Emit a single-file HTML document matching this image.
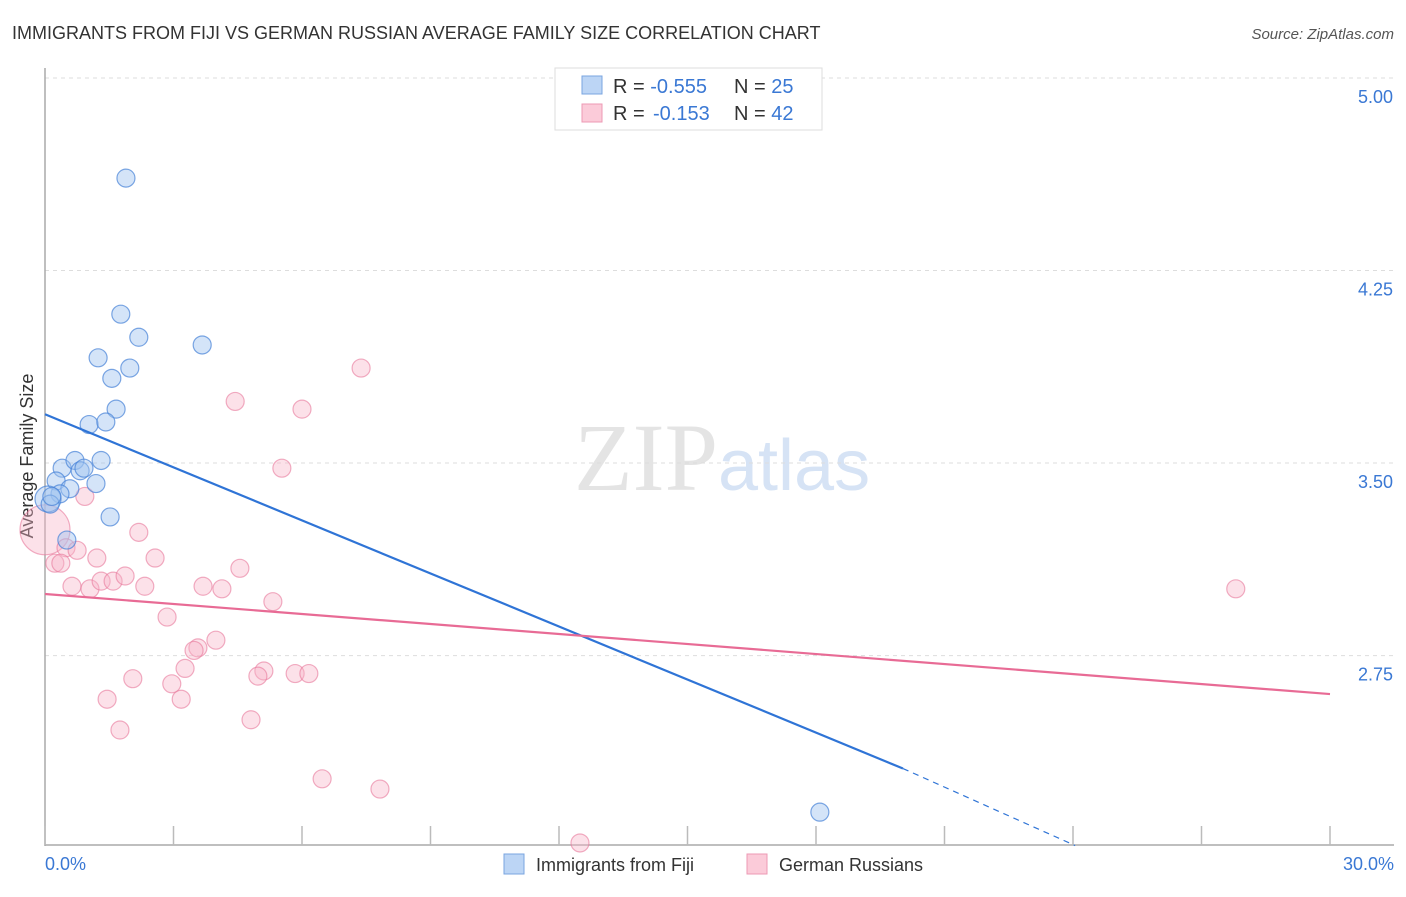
<!DOCTYPE html>
<html><head><meta charset="utf-8"><style>
body{margin:0;background:#fff;font-family:"Liberation Sans",sans-serif}
</style></head><body>
<svg width="1406" height="892" xmlns="http://www.w3.org/2000/svg" font-family="Liberation Sans, sans-serif">
<text x="12" y="39" font-size="18" fill="#333">IMMIGRANTS FROM FIJI VS GERMAN RUSSIAN AVERAGE FAMILY SIZE CORRELATION CHART</text>
<text x="1394" y="39" font-size="15" fill="#555" text-anchor="end" font-style="italic">Source: ZipAtlas.com</text>
<text x="718" y="490" font-size="96" fill="#e4e4e4" text-anchor="end" font-family="Liberation Serif, serif">ZIP</text>
<text x="718" y="490" font-size="72" fill="#d6e3f5">atlas</text>
<g id="grid"></g>
<line x1="45" y1="68" x2="45" y2="846" stroke="#aaa" stroke-width="1.5"/>
<line x1="45" y1="845" x2="1394" y2="845" stroke="#aaa" stroke-width="1.5"/>
<g id="xticks"></g>
<text x="33" y="456" font-size="18" fill="#333" text-anchor="middle" transform="rotate(-90 33 456)">Average Family Size</text>
<text x="45" y="870" font-size="18" fill="#3a78d4">0.0%</text>
<text x="1394" y="870" font-size="18" fill="#3a78d4" text-anchor="end">30.0%</text>
<g id="pts"></g>
<g id="lines"></g>
<g>
<rect x="555" y="68" width="267" height="62" fill="#fff" stroke="#ddd"/>
<rect x="582" y="76" width="20" height="18" fill="#bcd5f5" stroke="#7aa5e0"/>
<rect x="582" y="104" width="20" height="18" fill="#fbcbd9" stroke="#ec9ab4"/>
<text x="613" y="93" font-size="20" fill="#333">R = <tspan fill="#3a78d4">-0.555</tspan><tspan x="734">N = </tspan><tspan fill="#3a78d4">25</tspan></text>
<text x="613" y="120" font-size="20" fill="#333">R = <tspan fill="#3a78d4" x="653">-0.153</tspan><tspan x="734">N = </tspan><tspan fill="#3a78d4">42</tspan></text>
</g>
<g>
<rect x="504" y="854" width="20" height="20" fill="#bcd5f5" stroke="#7aa5e0"/>
<text x="536" y="871" font-size="18" fill="#333">Immigrants from Fiji</text>
<rect x="747" y="854" width="20" height="20" fill="#fbcbd9" stroke="#ec9ab4"/>
<text x="779" y="871" font-size="18" fill="#333">German Russians</text>
</g>
</svg>
<script>
const yTicks=[5.00,4.25,3.50,2.75];
const yTickLabels=["5.00","4.25","3.50","2.75"];
const fijiX=[1.89,1.77,2.19,3.67,1.24,1.98,1.56,1.66,1.03,1.42,0.40,0.70,1.31,0.82,0.91,0.26,0.58,1.19,0.35,0.07,1.52,0.51,18.09,0.12,0.16];
const fijiY=[4.61,4.08,3.99,3.96,3.91,3.87,3.83,3.71,3.65,3.66,3.48,3.51,3.51,3.47,3.48,3.43,3.40,3.42,3.38,3.36,3.29,3.20,2.14,3.34,3.37];
const fijiR=[9,9,9,9,9,9,9,9,9,9,9,9,9,9,9,9,9,9,9,13,9,9,9,9,9];
const grX=[7.38,4.44,6.00,5.53,0.93,2.19,0,0.49,0.75,1.21,2.57,0.23,0.37,0.63,1.05,1.31,1.59,1.87,2.33,4.55,3.69,4.13,5.32,2.85,3.99,3.57,3.48,3.27,5.11,4.97,5.84,6.16,2.05,2.96,3.18,1.45,4.81,1.75,6.47,7.82,12.49,27.80];
const grY=[3.87,3.74,3.71,3.48,3.37,3.23,3.24,3.17,3.16,3.13,3.13,3.11,3.11,3.02,3.01,3.04,3.04,3.06,3.02,3.09,3.02,3.01,2.96,2.90,2.81,2.78,2.77,2.70,2.69,2.67,2.68,2.68,2.66,2.64,2.58,2.58,2.50,2.46,2.27,2.23,2.02,3.01];
const grR=[9,9,9,9,9,9,25,9,9,9,9,9,9,9,9,9,9,9,9,9,9,9,9,9,9,9,9,9,9,9,9,9,9,9,9,9,9,9,9,9,9,9];
const fijiLine=[[0,3.69],[20.03,2.31]];
const fijiDash=[[20.03,2.31],[24.05,2.01]];
const grLine=[[0,2.99],[30,2.60]];
const xTicks=[0,3,6,9,12,15,18,21,24,27,30];
const NS="http://www.w3.org/2000/svg";
const X=v=>45+v/30*1285;
const Y=v=>78+(5-v)*256.7;
function mk(t,a,parent){const e=document.createElementNS(NS,t);for(const k in a)e.setAttribute(k,a[k]);document.getElementById(parent).appendChild(e);return e;}
yTicks.forEach((t,i)=>{
 const l=mk('line',{x1:45,x2:1394,y1:Y(t),y2:Y(t),stroke:'#ddd','stroke-dasharray':'4,4'},'grid');
 
 
 const tx=mk('text',{x:1393,y:Y(t)+25,'font-size':18,fill:'#3a78d4','text-anchor':'end'},'grid');
 tx.textContent=yTickLabels[i];
 
 
});
xTicks.forEach(t=>{
 const l=mk('line',{x1:X(t),x2:X(t),y1:826,y2:845,stroke:'#bbb','stroke-width':1.5},'xticks');
 
 
});
grX.forEach((v,i)=>{
 const c=mk('circle',{cx:X(v),cy:Y(grY[i]),r:grR[i],fill:'rgba(248,180,200,0.4)',stroke:'rgba(232,120,155,0.6)','stroke-width':1.2},'pts');
 
 
});
fijiX.forEach((v,i)=>{
 const c=mk('circle',{cx:X(v),cy:Y(fijiY[i]),r:fijiR[i],fill:'rgba(160,195,240,0.45)',stroke:'rgba(70,130,215,0.7)','stroke-width':1.2},'pts');
 
 
});
function ln(p,col,w,dash,name){
 const a={x1:X(p[0][0]),y1:Y(p[0][1]),x2:X(p[1][0]),y2:Y(p[1][1]),stroke:col,'stroke-width':w};
 if(dash)a['stroke-dasharray']=dash;
 const l=mk('line',a,'lines');
 
 
}
ln(fijiLine,'#2f74d6',2.2,null,'fiji-trend-line');
ln(fijiDash,'#2f74d6',1.2,'6,5','fiji-trend-extension');
ln(grLine,'#e86b95',2.2,null,'german-russian-trend-line');
</script>
</body></html>
